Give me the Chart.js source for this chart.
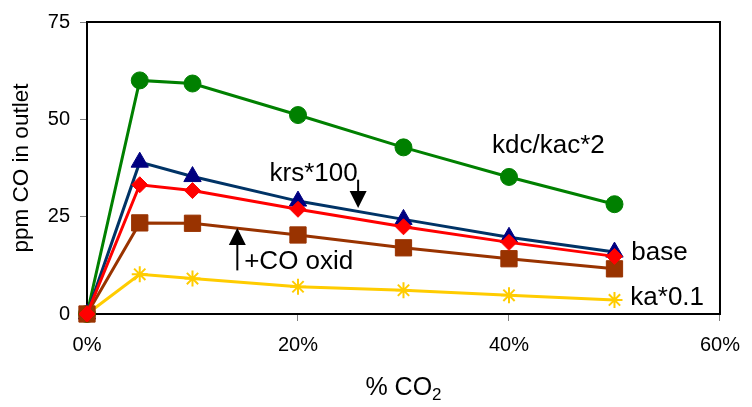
<!DOCTYPE html>
<html>
<head>
<meta charset="utf-8">
<script src="https://cdn.jsdelivr.net/npm/chart.js@4/dist/chart.umd.min.js"></script>
<style>
html,body{margin:0;padding:0;background:#fff;}
#wrap{width:752px;height:407px;position:relative;}
</style>
</head>
<body>
<div id="wrap"><canvas id="c" width="752" height="407"></canvas></div>
<script>
const co2Percent = [0, 5, 10, 20, 30, 40, 50];
const baseSeries   = [0, 33.2, 31.7, 26.9, 22.4, 18.4, 14.8];
const krsSeries    = [0, 39.0, 35.3, 29.0, 24.3, 19.7, 15.9];
const kdcSeries    = [0, 60.0, 59.2, 51.1, 42.8, 35.2, 28.2];
const coOxidSeries = [0, 23.4, 23.3, 20.3, 17.0, 14.2, 11.6];
const kaSeries     = [0, 10.2, 9.1, 7.0, 6.1, 4.8, 3.6];
const xTicks = [0, 20, 40, 60];
const yTicks = [0, 25, 50, 75];
const yTitle = 'ppm CO in outlet';
const xTitleMain = '% CO';
const xTitleSub = '2';
const labelTexts = ['kdc/kac*2', 'krs*100', '+CO oxid', 'base', 'ka*0.1'];
const labelX = [38.4, 17.3, 14.9, 51.6, 51.5];
const labelY = [41.3, 34.1, 11.6, 13.75, 2.3];
// arrows: x, start value, tip value
const arrowX = [25.7, 14.25];
const arrowFrom = [34.5, 11.2];
const arrowTo = [27.2, 22.1];

const FONT = "'Liberation Sans', Arial, sans-serif";
const pts = arr => arr.map((v, i) => ({x: co2Percent[i], y: v}));

const framePlugin = {
  id: 'frame',
  beforeDatasetsDraw(chart) {
    const {ctx, chartArea: a} = chart;
    ctx.save();
    ctx.strokeStyle = '#000';
    ctx.lineWidth = 2;
    ctx.strokeRect(a.left, a.top, a.right - a.left, a.bottom - a.top);
    ctx.restore();
  },
  afterDatasetsDraw(chart) {
    const {ctx} = chart;
    const xs = chart.scales.x, ys = chart.scales.y;
    ctx.save();
    ctx.fillStyle = '#000';
    ctx.font = "26px " + FONT;
    ctx.textBaseline = 'alphabetic';
    ctx.textAlign = 'left';
    labelTexts.forEach((t, i) => {
      ctx.fillText(t, xs.getPixelForValue(labelX[i]), ys.getPixelForValue(labelY[i]));
    });
    // arrows
    ctx.strokeStyle = '#000';
    ctx.lineWidth = 2;
    arrowX.forEach((ax, i) => {
      const px = xs.getPixelForValue(ax);
      const y0 = ys.getPixelForValue(arrowFrom[i]);
      const y1 = ys.getPixelForValue(arrowTo[i]);
      const dir = y1 > y0 ? 1 : -1;
      const head = 17, hw = 8.5;
      ctx.beginPath();
      ctx.moveTo(px, y0);
      ctx.lineTo(px, y1 - dir * head);
      ctx.stroke();
      ctx.beginPath();
      ctx.moveTo(px, y1);
      ctx.lineTo(px - hw, y1 - dir * head);
      ctx.lineTo(px + hw, y1 - dir * head);
      ctx.closePath();
      ctx.fill();
    });
    // x title with subscript
    const a = chart.chartArea;
    const cx = (a.left + a.right) / 2;
    const by = 395;
    ctx.font = "25px " + FONT;
    const w1 = ctx.measureText(xTitleMain).width;
    ctx.font = "17px " + FONT;
    const w2 = ctx.measureText(xTitleSub).width;
    const start = cx - (w1 + w2) / 2;
    ctx.font = "25px " + FONT;
    ctx.fillText(xTitleMain, start, by);
    ctx.font = "17px " + FONT;
    ctx.fillText(xTitleSub, start + w1, by + 5);
    ctx.restore();
  }
};

const common = {showLine: true, borderWidth: 3, pointBorderWidth: 1, clip: false};

new Chart(document.getElementById('c'), {
  type: 'scatter',
  data: {
    datasets: [
      Object.assign({}, common, {label: 'base', data: pts(baseSeries), borderColor: '#FF0000', backgroundColor: '#FF0000', pointStyle: 'rectRot', pointRadius: 8}),
      Object.assign({}, common, {label: '+CO oxid', data: pts(coOxidSeries), borderColor: '#993300', backgroundColor: '#993300', pointStyle: 'rect', pointRadius: 11.5}),
      Object.assign({}, common, {label: 'krs*100', data: pts(krsSeries), borderColor: '#003366', backgroundColor: '#000080', pointBorderColor: '#000080', pointStyle: 'triangle', pointRadius: 10}),
      Object.assign({}, common, {label: 'kdc/kac*2', data: pts(kdcSeries), borderColor: '#008000', backgroundColor: '#008000', pointStyle: 'circle', pointRadius: 8.5}),
      Object.assign({}, common, {label: 'ka*0.1', data: pts(kaSeries), borderColor: '#FFCC00', backgroundColor: '#FFCC00', pointStyle: 'star', pointRadius: 8, pointBorderWidth: 2})
    ]
  },
  options: {
    responsive: false,
    animation: false,
    layout: {padding: {top: 19, right: 25, left: 0, bottom: 0}},
    plugins: {legend: {display: false}, tooltip: {enabled: false}},
    scales: {
      x: {
        type: 'linear', min: 0, max: 60,
        afterBuildTicks(s) { s.ticks = xTicks.map(v => ({value: v})); },
        afterFit(s) { s.height = 93; },
        ticks: {callback: v => v + '%', color: '#000', font: {size: 20, family: FONT}, padding: 12, maxRotation: 0},
        grid: {drawOnChartArea: false, drawTicks: true, tickLength: 7, tickColor: '#808080', tickWidth: 1},
        border: {display: true, color: '#000', width: 2}
      },
      y: {
        min: 0, max: 75,
        afterBuildTicks(s) { s.ticks = yTicks.map(v => ({value: v})); },
        afterFit(s) { s.width = 87; },
        ticks: {color: '#000', font: {size: 20, family: FONT}, padding: 10},
        grid: {drawOnChartArea: false, drawTicks: true, tickLength: 7, tickColor: '#808080', tickWidth: 1},
        border: {display: true, color: '#000', width: 2},
        title: {display: true, text: yTitle, color: '#000', font: {size: 22.5, family: FONT, lineHeight: 1}, padding: {top: 11, bottom: 0}}
      }
    }
  },
  plugins: [framePlugin]
});
</script>
</body>
</html>
